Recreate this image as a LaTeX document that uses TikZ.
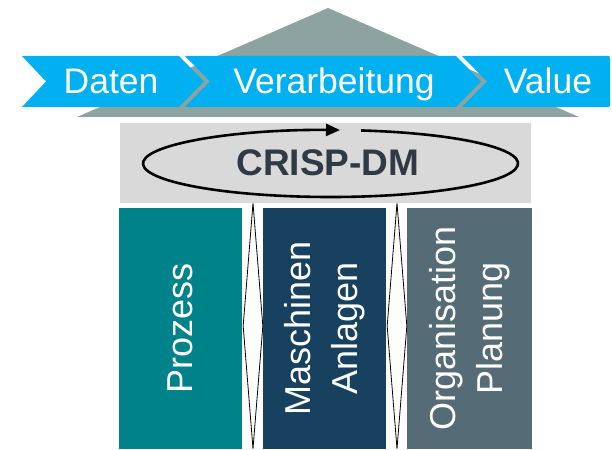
\documentclass[tikz,border=0pt]{standalone}
\usepackage{fontspec}
\setmainfont{Liberation Sans}
\usetikzlibrary{arrows.meta,shapes.geometric}

\definecolor{roofgrey}{HTML}{8CA39F}
\definecolor{skyblue}{HTML}{00B0F0}
\definecolor{boxgrey}{HTML}{D9D9D9}
\definecolor{crisptext}{HTML}{2F3A45}
\definecolor{pilteal}{HTML}{00828A}
\definecolor{pilblue}{HTML}{17415F}
\definecolor{pilgrey}{HTML}{556B76}

\tikzset{
  band/.style={fill=skyblue},
  bandlabel/.style={text=white, anchor=base, inner sep=0,
    font=\fontsize{35.5}{40}\selectfont},
  pillar/.style={rotate=90, minimum width=241, minimum height=#1,
    inner sep=0, text=white, align=center,
    font=\fontsize{36}{47}\selectfont},
  link/.style={diamond, draw=black, fill=white, line width=0.8pt,
    minimum width=20, minimum height=246, inner sep=0, aspect=0.1}
}

\begin{document}
\begin{tikzpicture}[x=1pt, y=-1pt]
\useasboundingbox (0,0) rectangle (612,449);

% roof
\fill[roofgrey] (328,8) -- (579,117) -- (77,117) -- cycle;

% process chevrons
\fill[band] (22,56) -- (179,56) -- (204,81.5) -- (179,107) -- (22,107) -- (46,81.5) -- cycle;
\fill[band] (185,56) -- (456,56) -- (481,81.5) -- (456,107) -- (185,107) -- (210,81.5) -- cycle;
\fill[band] (462,56) -- (607,56) .. controls (610,56) .. (610,59) -- (610,104)
  .. controls (610,107) .. (607,107) -- (462,107) -- (487,81.5) -- cycle;

\node[bandlabel] (daten) at (111,93.5) {Daten};
\node[bandlabel] (verarb) at (334,93.5) {Verarbeitung};
\node[bandlabel] (value) at (548,93.5) {Value};

% CRISP-DM beam
\node[fill=boxgrey, minimum width=411, minimum height=80, inner sep=0] (crisp) at (325.5,163) {};
\coordinate (ell) at (330.5,163.5);
\draw[line width=2.6pt, -{Triangle[length=14pt,width=12pt]}]
  (ell) ++(-80.6:187.5 and 33.5)
  arc[start angle=-80.6, end angle=272.9, x radius=187.5, y radius=33.5];
\node[text=crisptext, anchor=base, inner sep=0,
  font=\fontsize{37}{40}\selectfont\bfseries] (crisplabel) at (328,175.5) {CRISP-DM};

% pillars
\node[pillar=123, fill=pilteal] (prozess) at (180.5,328.5) {Prozess};
\node[pillar=123, fill=pilblue] (maschinen) at (324.5,328.5) {Maschinen\\Anlagen};
\node[pillar=125, fill=pilgrey] (organisation) at (469.5,328.5) {Organisation\\Planung};

% links between pillars
\node[link] (linkA) at (253,326) {};
\node[link] (linkB) at (397,326) {};
\end{tikzpicture}
\end{document}
